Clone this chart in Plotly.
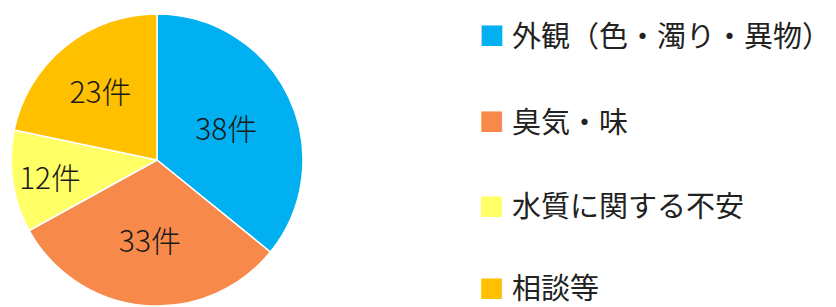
import plotly.graph_objects as go

labels = ["外観（色・濁り・異物）", "臭気・味", "水質に関する不安", "相談等"]
values = [38, 33, 12, 23]
texts = ["38件", "33件", "12件", "23件"]
colors = ["#00B0F0", "#F7894A", "#FFFF66", "#FFC000"]

FONT = "Noto Sans CJK JP"
OFF = 8  # page body margin of the browser
W, H = 836 - OFF, 307 - OFF
cx, cy, r = 157 - OFF, 160 - OFF, 146

fig = go.Figure()
fig.add_trace(go.Pie(
    labels=labels, values=values, text=texts,
    textinfo="text", textposition="inside", insidetextorientation="horizontal",
    sort=False, direction="clockwise", rotation=0,
    marker=dict(colors=colors, line=dict(color="white", width=1.5)),
    textfont=dict(family=FONT, size=30, color="#1a1a1a", weight=300),
    domain=dict(x=[(cx - r) / W, (cx + r) / W], y=[(H - cy - r) / H, (H - cy + r) / H]),
    showlegend=False, hoverinfo="label+value",
))

leg_y = [34, 120, 204, 286]
for lab, col, yy in zip(labels, colors, leg_y):
    yp = 1 - (yy - OFF) / H
    fig.add_annotation(x=(492 - OFF) / W, y=yp, xref="paper", yref="paper",
                       text="■", showarrow=False, xanchor="center", yanchor="middle",
                       font=dict(family="DejaVu Sans", size=27, color=col))
    fig.add_annotation(x=(510 - OFF) / W, y=yp, xref="paper", yref="paper",
                       text=lab, showarrow=False, xanchor="left", yanchor="middle",
                       font=dict(family=FONT, size=29, color="#222"))

fig.update_layout(
    width=W, height=H, margin=dict(l=0, r=0, t=0, b=0),
    paper_bgcolor="white", plot_bgcolor="white", showlegend=False,
)
fig.write_html("out.html")
